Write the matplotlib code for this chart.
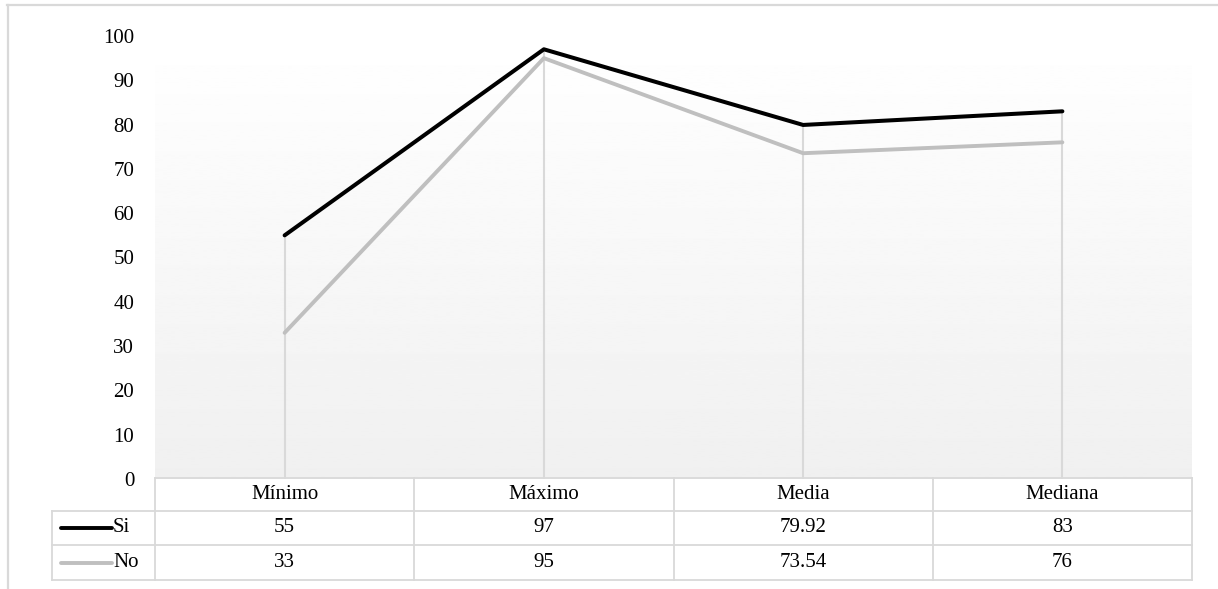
import numpy as np
import matplotlib
matplotlib.use("Agg")
import matplotlib.pyplot as plt
from matplotlib.lines import Line2D

# data
categories = ["Mínimo", "Máximo", "Media", "Mediana"]
series_names = ["Si", "No"]
si_values = [55, 97, 79.92, 83]
no_values = [33, 95, 73.54, 76]
si_labels = ["55", "97", "79.92", "83"]
no_labels = ["33", "95", "73.54", "76"]
y_ticks = [0, 10, 20, 30, 40, 50, 60, 70, 80, 90, 100]

plt.rcParams["font.family"] = ["Liberation Serif", "DejaVu Serif"]

W, H = 1218, 589
fig = plt.figure(figsize=(W / 100, H / 100), dpi=100)


def fx(px):
    return px / W


def fy(py):
    return 1 - py / H


grid_col = "#d9d9d9"
si_col = "#000000"
no_col = "#bfbfbf"

# plot area
left, right, top, bottom = 155, 1192, 36, 479
ax = fig.add_axes([fx(left), fy(bottom), fx(right) - fx(left), fy(top) - fy(bottom)])
ax.set_xlim(-0.5, len(categories) - 0.5)
ax.set_ylim(0, 100)

# gradient background
grad = np.linspace(1.0, 0.94, 256).reshape(-1, 1)
ax.imshow(grad, extent=[-0.5, len(categories) - 0.5, 0, 100], aspect="auto",
          cmap="gray", vmin=0, vmax=1, zorder=0, origin="upper")

x = np.arange(len(categories))
top_vals = np.maximum(si_values, no_values)
ax.vlines(x, 0, top_vals, color=grid_col, lw=1.5, zorder=1)
ax.plot(x, no_values, color=no_col, lw=2.8, zorder=2, solid_capstyle="round")
ax.plot(x, si_values, color=si_col, lw=2.9, zorder=3, solid_capstyle="round")

for s in ax.spines.values():
    s.set_visible(False)
ax.set_xticks([])
ax.set_yticks(y_ticks)
ax.tick_params(axis="y", length=0, pad=15, labelsize=15)

# outer border
fig.add_artist(Line2D([fx(7), fx(W)], [fy(5), fy(5)], color=grid_col, lw=1.6))
fig.add_artist(Line2D([fx(8), fx(8)], [fy(5), fy(H)], color=grid_col, lw=1.6))

# data table
rows_y = [478, 511, 545, 580]
col_x = [left + i * (right - left) / len(categories) for i in range(len(categories) + 1)]
label_left = 52

tl = dict(color=grid_col, lw=1.3)
# horizontal lines
fig.add_artist(Line2D([fx(left), fx(right)], [fy(rows_y[0])] * 2, **tl))
for ry in rows_y[1:]:
    fig.add_artist(Line2D([fx(label_left), fx(right)], [fy(ry)] * 2, **tl))
# vertical lines
fig.add_artist(Line2D([fx(label_left)] * 2, [fy(rows_y[1]), fy(rows_y[3])], **tl))
for cx in col_x:
    fig.add_artist(Line2D([fx(cx)] * 2, [fy(rows_y[0]), fy(rows_y[3])], **tl))

fs = 15
for i, cat in enumerate(categories):
    cx = (col_x[i] + col_x[i + 1]) / 2
    fig.text(fx(cx), fy((rows_y[0] + rows_y[1]) / 2), cat, ha="center", va="center", fontsize=fs)
    fig.text(fx(cx), fy((rows_y[1] + rows_y[2]) / 2), si_labels[i], ha="center", va="center", fontsize=fs)
    fig.text(fx(cx), fy((rows_y[2] + rows_y[3]) / 2), no_labels[i], ha="center", va="center", fontsize=fs)

for j, (name, col) in enumerate(zip(series_names, [si_col, no_col])):
    cy = fy((rows_y[j + 1] + rows_y[j + 2]) / 2)
    fig.add_artist(Line2D([fx(61), fx(112)], [cy, cy], color=col, lw=2.8, solid_capstyle="round"))
    fig.text(fx(113), cy, name, ha="left", va="center", fontsize=fs)

fig.savefig("out.png", dpi=100)
